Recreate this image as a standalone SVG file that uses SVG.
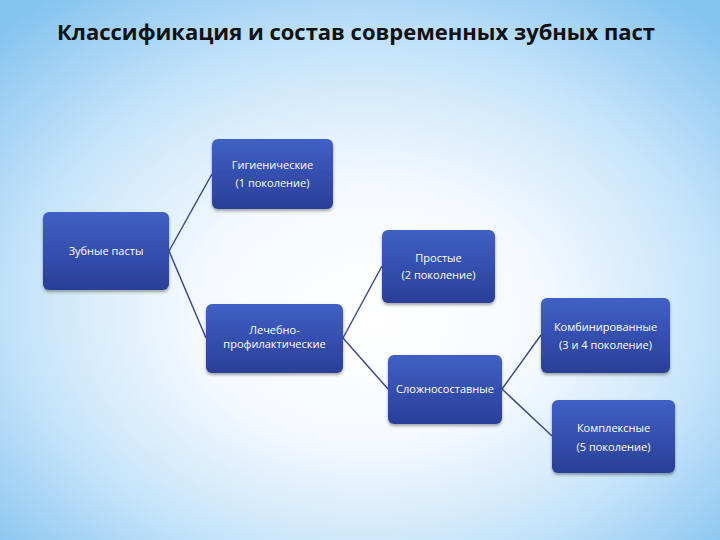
<svg xmlns="http://www.w3.org/2000/svg" width="720" height="540" viewBox="0 0 720 540">
<defs>
<radialGradient id="bg" cx="50%" cy="55%" r="70%" fx="52%" fy="60%">
<stop offset="0" stop-color="#ffffff"/>
<stop offset="0.35" stop-color="#f4f9fe"/>
<stop offset="0.68" stop-color="#c6e4fa"/>
<stop offset="1" stop-color="#86c4f0"/>
</radialGradient>
<linearGradient id="nodefill" x1="0" y1="0" x2="0" y2="1">
<stop offset="0" stop-color="#4060c6"/>
<stop offset="1" stop-color="#2a3f97"/>
</linearGradient>
<filter id="sh" x="-10%" y="-10%" width="130%" height="140%">
<feGaussianBlur in="SourceAlpha" stdDeviation="1.5"/>
<feOffset dx="0" dy="2" result="b"/>
<feComponentTransfer><feFuncA type="linear" slope="0.35"/></feComponentTransfer>
<feMerge><feMergeNode/><feMergeNode in="SourceGraphic"/></feMerge>
</filter>
</defs>
<style>
.n rect{fill:url(#nodefill);filter:url(#sh)}
.n text{fill:#ffffff;font-family:"Open Sans","Liberation Sans",sans-serif;font-size:11px;text-anchor:middle}
.c line{stroke:#3d4b8c;stroke-width:1.5}
.title{font-family:"Open Sans","Liberation Sans",sans-serif;font-weight:bold;font-size:21px;fill:#111111}
</style>
<rect width="720" height="540" fill="url(#bg)"/>
<text class="title" x="356" y="40" text-anchor="middle" textLength="598" lengthAdjust="spacingAndGlyphs">Классификация и состав современных зубных паст</text>
<g id="connectors" class="c">
<line x1="169" y1="251" x2="212" y2="174"/>
<line x1="169" y1="251" x2="206" y2="338"/>
<line x1="343" y1="338" x2="382" y2="266"/>
<line x1="343" y1="338" x2="388" y2="389"/>
<line x1="502" y1="389" x2="541" y2="335"/>
<line x1="502" y1="389" x2="552" y2="436"/>
</g>
<g id="n-zubnye" class="n">
<rect x="43" y="212" width="126" height="78" rx="6"/>
<text x="106" y="255">Зубные пасты</text>
</g>
<g id="n-gigien" class="n">
<rect x="212" y="139" width="121" height="70" rx="6"/>
<text x="272.5" y="169">Гигиенические</text>
<text x="272.5" y="187">(1 поколение)</text>
</g>
<g id="n-lech" class="n">
<rect x="206" y="304" width="137" height="69" rx="6"/>
<text x="274.5" y="334">Лечебно-</text>
<text x="274.5" y="348">профилактические</text>
</g>
<g id="n-prostye" class="n">
<rect x="382" y="230" width="113" height="73" rx="6"/>
<text x="438.5" y="262">Простые</text>
<text x="438.5" y="279">(2 поколение)</text>
</g>
<g id="n-slozhn" class="n">
<rect x="388" y="355" width="114" height="69" rx="6"/>
<text x="445" y="393">Сложносоставные</text>
</g>
<g id="n-komb" class="n">
<rect x="541" y="298" width="129" height="75" rx="6"/>
<text x="605.5" y="331">Комбинированные</text>
<text x="605.5" y="349">(3 и 4 поколение)</text>
</g>
<g id="n-kompl" class="n">
<rect x="552" y="400" width="123" height="73" rx="6"/>
<text x="613.5" y="432">Комплексные</text>
<text x="613.5" y="451">(5 поколение)</text>
</g>
</svg>
